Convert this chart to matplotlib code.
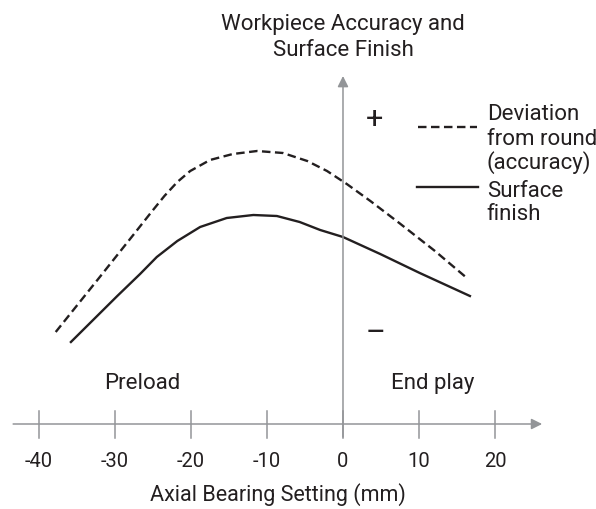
import matplotlib
matplotlib.use("Agg")
import matplotlib.pyplot as plt

plt.rcParams['font.family'] = ['Roboto', 'DejaVu Sans']

# axial bearing setting (mm) and relative level
dev_x = [-37.8, -32.0, -27.6, -25.1, -23.5, -21.8, -20.1, -17.5, -14.5, -11.3, -7.9, -4.7, -2.1,
         0.5, 3.6, 7.4, 12.1, 16.3]
dev_y = [9.2, 14.7, 18.9, 21.3, 22.8, 24.2, 25.3, 26.4, 27.0, 27.3, 27.1, 26.3, 25.3,
         24.0, 22.3, 20.1, 17.3, 14.6]

surf_x = [-35.8, -29.7, -26.7, -24.5, -21.8, -18.8, -15.3, -11.8, -8.7, -5.7, -3.0, 0.0,
          4.9, 10.1, 16.7]
surf_y = [8.2, 12.8, 15.0, 16.7, 18.3, 19.7, 20.6, 20.9, 20.8, 20.2, 19.4, 18.7,
          17.0, 15.1, 12.8]

ticks = [-40, -30, -20, -10, 0, 10, 20]
tick_labels = ["-40", "-30", "-20", "-10", "0", "10", "20"]

ink = "#231f20"
gray = "#939598"

fig = plt.figure(figsize=(5.96, 5.10), dpi=100)
ax = fig.add_axes([0, 0, 1, 1])
ax.set_xlim(-45.13, 33.29)
ax.set_ylim(-8.5, 42.5)
ax.axis("off")

# axes with arrows
ax.annotate("", xy=(26.2, 0), xytext=(-43.4, 0),
            arrowprops=dict(arrowstyle="-|>", color=gray, lw=1.1, mutation_scale=16,
                            shrinkA=0, shrinkB=0))
ax.annotate("", xy=(0, 34.8), xytext=(0, -1.3),
            arrowprops=dict(arrowstyle="-|>", color=gray, lw=1.1, mutation_scale=16,
                            shrinkA=0, shrinkB=0))
for t, lab in zip(ticks, tick_labels):
    ax.plot([t, t], [1.3, -1.4], color=gray, lw=1.1)
    ax.text(t, -4.2, lab, ha="center", va="baseline", fontsize=14.5, color=ink)

ax.plot(dev_x, dev_y, color=ink, lw=1.7, dashes=(3.6, 1.9))
ax.plot(surf_x, surf_y, color=ink, lw=1.7)

ax.text(0, 39.5, "Workpiece Accuracy and", ha="center", va="baseline", fontsize=16, color=ink)
ax.text(0, 36.9, "Surface Finish", ha="center", va="baseline", fontsize=16, color=ink)
ax.text(-8.5, -7.6, "Axial Bearing Setting (mm)", ha="center", va="baseline",
        fontsize=15.5, color=ink)
ax.text(-26.4, 3.6, "Preload", ha="center", va="baseline", fontsize=16, color=ink)
ax.text(11.8, 3.6, "End play", ha="center", va="baseline", fontsize=16, color=ink)
ax.text(4.2, 30.5, "+", ha="center", va="center", fontsize=22, color=ink)
ax.text(4.3, 9.2, "\u2013", ha="center", va="center", fontsize=22, color=ink)

# legend drawn by hand
ax.plot([9.9, 17.6], [29.7, 29.7], color=ink, lw=1.7, dashes=(3.6, 1.9))
ax.plot([9.7, 17.8], [23.7, 23.7], color=ink, lw=1.7)
for txt, yb in [("Deviation", 30.5), ("from round", 28.0), ("(accuracy)", 25.6),
                ("Surface", 22.8), ("finish", 20.5)]:
    ax.text(18.9, yb, txt, ha="left", va="baseline", fontsize=16, color=ink)

fig.savefig("out.png", dpi=100)
